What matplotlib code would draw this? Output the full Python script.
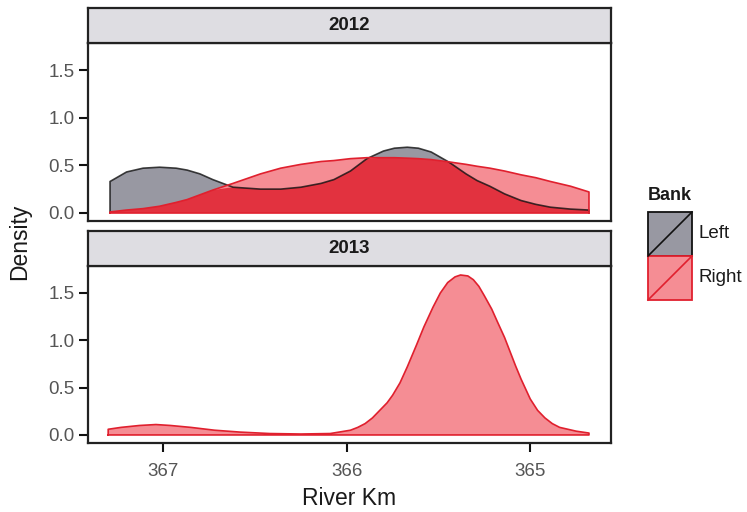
import matplotlib
matplotlib.use("Agg")
import matplotlib.pyplot as plt
import numpy as np
from matplotlib.patches import Rectangle
from matplotlib.lines import Line2D

plt.rcParams['font.family'] = ['Liberation Sans', 'DejaVu Sans']

# ---- data ----
years = ["2012", "2013"]
banks = ["Left", "Right"]

km_2012 = [367.29, 367.20, 367.11, 367.02, 366.93, 366.87, 366.80, 366.73, 366.62,
           366.47, 366.36, 366.25, 366.14, 366.07, 365.98, 365.89, 365.80, 365.74,
           365.67, 365.61, 365.54, 365.44, 365.35, 365.29, 365.22, 365.14, 365.05,
           364.97, 364.89, 364.78, 364.68]
left_2012 = [0.33, 0.43, 0.47, 0.48, 0.47, 0.45, 0.41, 0.35, 0.27,
             0.25, 0.25, 0.27, 0.31, 0.35, 0.44, 0.57, 0.65, 0.68,
             0.69, 0.68, 0.64, 0.53, 0.41, 0.34, 0.28, 0.20, 0.13,
             0.09, 0.06, 0.04, 0.03]
right_2012 = [0.01, 0.03, 0.045, 0.07, 0.11, 0.14, 0.19, 0.24, 0.31,
              0.41, 0.47, 0.51, 0.54, 0.55, 0.57, 0.58, 0.58, 0.58,
              0.575, 0.57, 0.56, 0.535, 0.51, 0.49, 0.47, 0.44, 0.40,
              0.37, 0.33, 0.28, 0.22]

km_2013 = [367.30, 367.23, 367.13, 367.04, 366.96, 366.85, 366.72, 366.58, 366.42,
           366.25, 366.09, 365.98, 365.94, 365.90, 365.86, 365.82, 365.78, 365.75,
           365.71, 365.67, 365.62, 365.58, 365.53, 365.49, 365.45, 365.41, 365.38,
           365.34, 365.31, 365.28, 365.25, 365.21, 365.18, 365.14, 365.11, 365.08,
           365.05, 365.00, 364.96, 364.92, 364.88, 364.84, 364.75, 364.68]
right_2013 = [0.06, 0.08, 0.10, 0.11, 0.10, 0.08, 0.05, 0.03, 0.015,
              0.01, 0.015, 0.05, 0.08, 0.12, 0.18, 0.26, 0.34, 0.42,
              0.55, 0.72, 0.95, 1.14, 1.35, 1.50, 1.61, 1.67, 1.69,
              1.68, 1.64, 1.57, 1.47, 1.33, 1.20, 1.03, 0.88, 0.73,
              0.59, 0.38, 0.26, 0.18, 0.12, 0.08, 0.04, 0.02]

x_ticks = [367, 366, 365]
y_ticks = [0.0, 0.5, 1.0, 1.5]

# ---- styling ----
GREY_FILL = "#9898a2"
PINK_FILL = "#f58d94"
OVERLAP_FILL = "#e2323f"
RED_LINE = "#e0202e"
STRIP_FILL = "#dedde2"
TICK_COL = "#555555"

W, H = 747, 512
fig = plt.figure(figsize=(W / 100, H / 100), dpi=100)

def fx(px):
    return px / W

def fy(py):
    return 1 - py / H

left_px, right_px = 88, 611
panels = [(43, 221, 8), (266, 443, 231)]  # (top, bottom, strip top)

axes = []
for (top, bot, stop), yr in zip(panels, years):
    ax = fig.add_axes([fx(left_px), fy(bot), fx(right_px - left_px), (bot - top) / H])
    sax = fig.add_axes([fx(left_px), fy(top), fx(right_px - left_px), (top - stop) / H])
    sax.set_xticks([]); sax.set_yticks([])
    sax.set_facecolor(STRIP_FILL)
    for s in sax.spines.values():
        s.set_linewidth(1.6); s.set_color("#222222")
    sax.text(0.5, 0.5, yr, ha="center", va="center", fontsize=13.5,
             fontweight="bold", color="#1a1a1a", transform=sax.transAxes)
    axes.append(ax)

for ax in axes:
    ax.set_xlim(367.41, 364.56)
    ax.set_ylim(-0.085, 1.785)
    ax.set_yticks(y_ticks)
    ax.set_yticklabels([f"{v:.1f}" for v in y_ticks])
    ax.set_xticks(x_ticks)
    ax.tick_params(axis="both", colors="#111111", labelcolor=TICK_COL,
                   labelsize=13.5, length=6.5, width=1.5)
    ax.tick_params(axis="y", pad=3)
    ax.tick_params(axis="x", pad=8)
    for s in ax.spines.values():
        s.set_linewidth(1.6); s.set_color("#222222")

axes[0].tick_params(axis="x", bottom=False, labelbottom=False)

# 2012 panel
ax = axes[0]
x = np.array(km_2012)
l = np.array(left_2012)
r = np.array(right_2012)
ax.fill_between(x, 0, l, facecolor=GREY_FILL, edgecolor="none", zorder=2)
ax.fill_between(x, 0, r, facecolor=PINK_FILL, edgecolor="none", zorder=3)
ax.fill_between(x, 0, np.minimum(l, r), facecolor=OVERLAP_FILL, edgecolor="none", zorder=4)
ax.plot(np.r_[x[0], x, x[-1]], np.r_[0, l, 0], color="#111111", lw=1.2, alpha=0.8, zorder=5)
ax.plot(np.r_[x[0], x, x[-1]], np.r_[0, r, 0], color=RED_LINE, lw=1.2, zorder=6)
ax.plot([x[0], x[-1]], [0, 0], color=RED_LINE, lw=1.2, zorder=6)

# 2013 panel
ax = axes[1]
x2 = np.array(km_2013)
r2 = np.array(right_2013)
ax.fill_between(x2, 0, r2, facecolor=PINK_FILL, edgecolor="none", zorder=3)
ax.plot(np.r_[x2[0], x2, x2[-1], x2[0]], np.r_[0, r2, 0, 0], color=RED_LINE, lw=1.2, zorder=6)
ax.set_xlabel("River Km", fontsize=16.5, color="#1a1a1a", labelpad=5)

fig.text(fx(20), fy(242), "Density", rotation=90, ha="center", va="center",
         fontsize=16.5, color="#1a1a1a")

# legend
fig.text(fx(648), fy(195), "Bank", ha="left", va="center", fontsize=13,
         fontweight="bold", color="#1a1a1a")
key_specs = [(212, GREY_FILL, "#111111", banks[0]), (256, PINK_FILL, RED_LINE, banks[1])]
for ktop, fc, ec, lab in key_specs:
    kx0, kx1, kb = 648, 692, ktop + 44
    fig.patches.append(Rectangle((fx(kx0), fy(kb)), fx(kx1 - kx0), (kb - ktop) / H,
                                 facecolor=fc, edgecolor=ec, linewidth=1.3,
                                 transform=fig.transFigure, figure=fig))
    fig.lines.append(Line2D([fx(kx0), fx(kx1)], [fy(kb), fy(ktop)], color=ec, lw=1.2,
                            transform=fig.transFigure, figure=fig))
    fig.text(fx(698), fy(ktop + 22), lab, ha="left", va="center", fontsize=13.5,
             color="#1a1a1a")

fig.savefig("out.png", dpi=100)
